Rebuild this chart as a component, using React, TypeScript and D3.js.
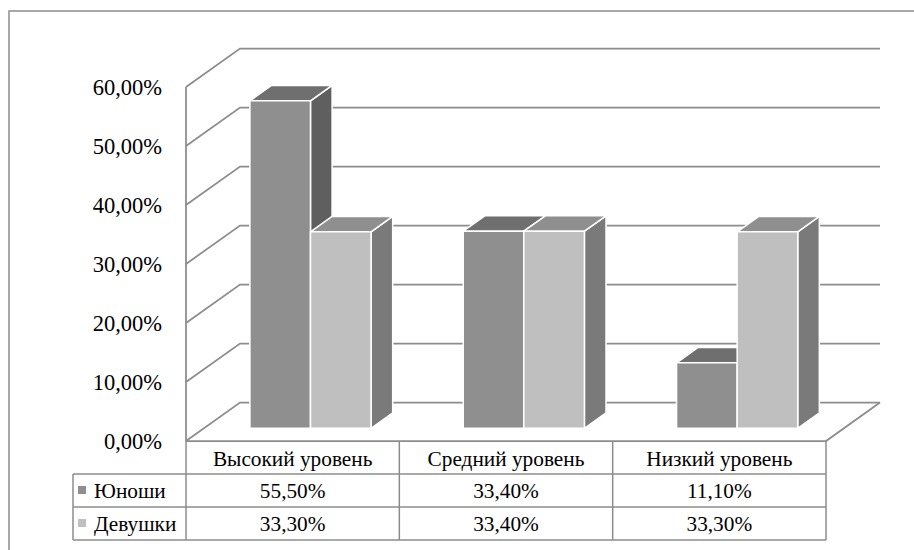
import React from "react";
import * as d3 from "d3";

const categories = ["Высокий уровень", "Средний уровень", "Низкий уровень"];
const seriesNames = ["Юноши", "Девушки"];
const boys = [55.5, 33.4, 11.1];
const girls = [33.3, 33.4, 33.3];
const boysLabels = ["55,50%", "33,40%", "11,10%"];
const girlsLabels = ["33,30%", "33,40%", "33,30%"];
const yTicks = [0, 10, 20, 30, 40, 50, 60];

const W = 914;
const H = 550;
const FONT = "Liberation Serif, Times New Roman, serif";
const GRID = "#8c8c8c";

const faceColors = [
  { front: "#8f8f8f", top: "#6f6f6f", side: "#5f5f5f" },
  { front: "#bfbfbf", top: "#8f8f8f", side: "#7a7a7a" },
];
const legendColors = ["#8f8f8f", "#bfbfbf"];

export default function App() {
  const xLeft = 186;
  const xRight = 826;
  const floorY = 441;
  const depthDx = 54;
  const depthDy = -38.5;

  const y = d3.scaleLinear().domain([0, 60]).range([floorY, 87]);
  const x = d3.scaleBand<string>().domain(categories).range([xLeft, xRight]).padding(0);
  const band = x.bandwidth();
  const barW = band * 0.284;
  const groupPad = (band - 2 * barW) / 2;

  const f1 = 0.33;
  const f2 = 0.73;

  const seriesData = [boys, girls];

  const bars: any[] = [];
  categories.forEach((c, ci) => {
    seriesData.forEach((vals, si) => {
      const v = vals[ci];
      const x0 = (x(c) as number) + groupPad + si * barW + depthDx * f1;
      const x1 = x0 + barW;
      const yb = y(0) + depthDy * f1;
      const yt = y(v) + depthDy * f1;
      const ddx = depthDx * (f2 - f1);
      const ddy = depthDy * (f2 - f1);
      const col = faceColors[si];
      const front = `M${x0},${yb}L${x1},${yb}L${x1},${yt}L${x0},${yt}Z`;
      const top = `M${x0},${yt}L${x1},${yt}L${x1 + ddx},${yt + ddy}L${x0 + ddx},${yt + ddy}Z`;
      const side = `M${x1},${yb}L${x1},${yt}L${x1 + ddx},${yt + ddy}L${x1 + ddx},${yb + ddy}Z`;
      bars.push(
        <g key={`${ci}-${si}`} stroke="#ffffff" strokeWidth={1.5} strokeLinejoin="round">
          <path d={side} fill={col.side} />
          <path d={top} fill={col.top} />
          <path d={front} fill={col.front} />
        </g>
      );
    });
  });

  const backX0 = xLeft + depthDx;
  const backX1 = xRight + depthDx;

  const rowY = [floorY, 474, 507, 540];
  const tableLeft = 73;
  const textStyle = { fontFamily: FONT };

  return (
    <svg
      width={W}
      height={H}
      style={{ position: "absolute", left: 0, top: 0, background: "#fff" }}
    >
      <rect x={0} y={0} width={W} height={H} fill="#fff" />
      <path d={`M9,${H + 2}L9,11L${W + 2},11`} fill="none" stroke={GRID} strokeWidth={1.5} />

      <g stroke={GRID} strokeWidth={1.75} fill="none">
        {yTicks.map((t) => (
          <path
            key={t}
            d={`M${xLeft},${y(t)}L${backX0},${y(t) + depthDy}L${backX1},${y(t) + depthDy}`}
          />
        ))}
        <path d={`M${xLeft},${y(60)}L${xLeft},${floorY}`} />
        <path d={`M${xLeft},${floorY}L${xRight},${floorY}L${backX1},${floorY + depthDy}`} />
      </g>

      {bars}

      <g style={textStyle} fontSize={22.5} fill="#000" textAnchor="end">
        {yTicks.map((t) => (
          <text key={t} x={162} y={y(t)} dy="0.35em">
            {t.toFixed(2).replace(".", ",") + "%"}
          </text>
        ))}
      </g>

      <g stroke={GRID} strokeWidth={1.5} fill="none">
        {categories.map((c) => (
          <path key={c} d={`M${x(c)},${rowY[0]}L${x(c)},${rowY[3]}`} />
        ))}
        <path d={`M${xRight},${rowY[0]}L${xRight},${rowY[3]}`} />
        <path d={`M${tableLeft},${rowY[1]}L${tableLeft},${rowY[3]}`} />
        <path d={`M${tableLeft},${rowY[1]}L${xRight},${rowY[1]}`} />
        <path d={`M${tableLeft},${rowY[2]}L${xRight},${rowY[2]}`} />
        <path d={`M${tableLeft},${rowY[3]}L${xRight},${rowY[3]}`} />
      </g>
      <g style={textStyle} fontSize={21.3} fill="#000" textAnchor="middle">
        {categories.map((c) => (
          <text key={c} x={(x(c) as number) + band / 2} y={(rowY[0] + rowY[1]) / 2} dy="0.42em">
            {c}
          </text>
        ))}
        {categories.map((c, i) => (
          <text key={"b" + c} x={(x(c) as number) + band / 2} y={(rowY[1] + rowY[2]) / 2} dy="0.35em">
            {boysLabels[i]}
          </text>
        ))}
        {categories.map((c, i) => (
          <text key={"g" + c} x={(x(c) as number) + band / 2} y={(rowY[2] + rowY[3]) / 2} dy="0.35em">
            {girlsLabels[i]}
          </text>
        ))}
      </g>
      {seriesNames.map((s, i) => {
        const cy = (rowY[i + 1] + rowY[i + 2]) / 2;
        return (
          <g key={s}>
            <rect x={78} y={cy - 4.5} width={8} height={8} fill={legendColors[i]} />
            <text x={94} y={cy} dy="0.35em" style={textStyle} fontSize={21.3} fill="#000">
              {s}
            </text>
          </g>
        );
      })}
    </svg>
  );
}
